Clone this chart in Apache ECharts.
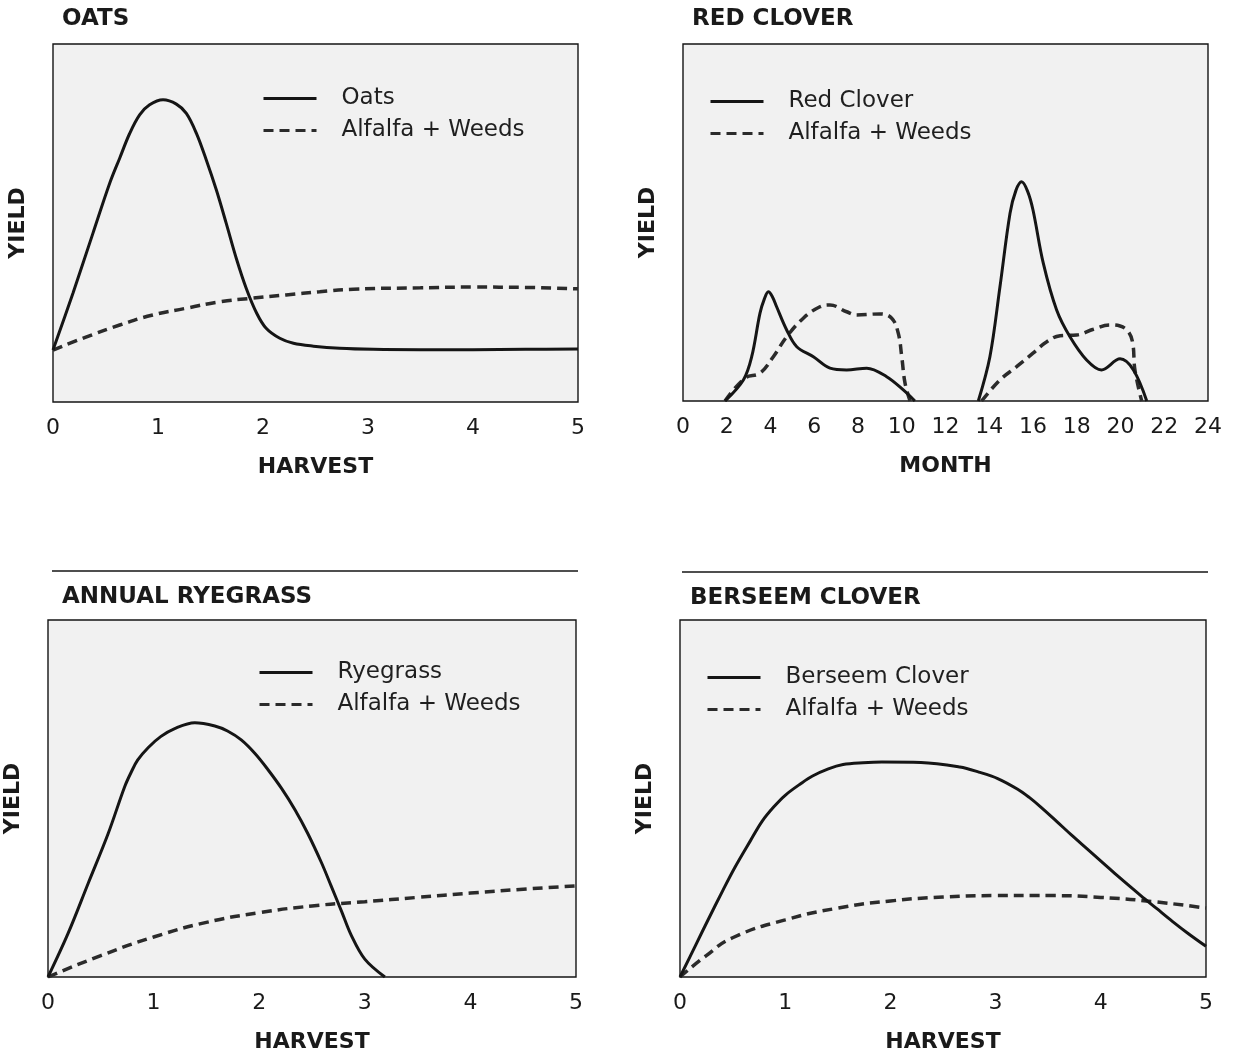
<!DOCTYPE html>
<html>
<head>
<meta charset="utf-8">
<script src="https://cdn.jsdelivr.net/npm/echarts@6/dist/echarts.min.js"></script>
<style>
html,body{margin:0;padding:0;background:#fff;}
#chart{width:1238px;height:1061px;}
</style>
</head>
<body>
<div id="chart"></div>
<script>
// ---------- tick labels ----------
const harvestTicks = [0, 1, 2, 3, 4, 5];
const monthTicks = [0, 2, 4, 6, 8, 10, 12, 14, 16, 18, 20, 22, 24];

// ---------- panel titles / legends ----------
const panelTitles = ['OATS', 'RED CLOVER', 'ANNUAL RYEGRASS', 'BERSEEM CLOVER'];
const cropNames = ['Oats', 'Red Clover', 'Ryegrass', 'Berseem Clover'];
const compName = 'Alfalfa + Weeds';

// ---------- OATS (x = harvest, y = relative yield 0-100) ----------
const oatsX = [0, 0.19, 0.38, 0.54, 0.635, 0.73, 0.825, 0.92, 1.048, 1.175, 1.27, 1.365, 1.46, 1.556, 1.65, 1.746, 1.84, 1.94, 2.03, 2.16, 2.29, 2.48, 2.73, 3.05, 3.5, 4, 4.5, 5];
const oatsY = [14.5, 30.4, 47.1, 61.1, 68.1, 75.0, 80.2, 83.0, 84.4, 83.2, 80.6, 75.1, 67.6, 59.2, 49.9, 40.1, 31.8, 24.8, 20.6, 17.8, 16.4, 15.6, 15.0, 14.7, 14.6, 14.6, 14.7, 14.8];
const oatsAlfX = [0, 0.32, 0.635, 0.95, 1.27, 1.59, 1.9, 2.22, 2.54, 2.86, 3.5, 4, 4.5, 5];
const oatsAlfY = [14.5, 18.2, 21.5, 24.3, 26.2, 28.0, 29.0, 29.9, 30.8, 31.5, 31.9, 32.1, 32.0, 31.6];

// ---------- RED CLOVER (x = month) ----------
const rcX1 = [1.92, 2.76, 3.14, 3.52, 3.72, 3.9, 4.08, 4.28, 4.74, 5.2, 5.96, 6.72, 7.48, 8.4, 9.31, 10.07, 10.6];
const rcY1 = [0, 5.9, 12.4, 24.6, 28.6, 30.6, 29.3, 26.4, 19.9, 15.2, 12.4, 9.2, 8.7, 9.2, 6.8, 3.1, 0];
const rcX2 = [13.5, 14.03, 14.49, 14.95, 15.22, 15.48, 15.75, 16.0, 16.47, 17.08, 17.69, 18.45, 19.13, 19.98, 20.59, 21.2];
const rcY2 = [0, 12.4, 32.0, 52.6, 59.0, 61.4, 58.8, 53.5, 38.6, 25.5, 18.0, 11.5, 8.7, 11.8, 8.7, 0];
const rcAlfX1 = [1.92, 2.83, 3.52, 4.13, 4.74, 5.5, 6.26, 6.72, 7.48, 7.94, 9.0, 9.54, 9.84, 10.0, 10.15, 10.38];
const rcAlfY1 = [0, 6.4, 7.8, 12.4, 18.0, 23.2, 26.4, 26.9, 25.0, 24.1, 24.4, 23.2, 19.0, 12.4, 5.0, 0];
const rcAlfX2 = [13.65, 14.49, 15.25, 16.0, 16.63, 17.24, 18.0, 18.76, 19.52, 19.98, 20.36, 20.56, 20.66, 20.97];
const rcAlfY2 = [0, 5.9, 9.6, 13.4, 16.6, 18.3, 18.5, 20.1, 21.3, 21.0, 19.4, 16.2, 8.7, 0];

// ---------- ANNUAL RYEGRASS ----------
const ryeX = [0, 0.19, 0.38, 0.57, 0.726, 0.79, 0.85, 0.95, 1.07, 1.2, 1.39, 1.58, 1.7, 1.83, 1.96, 2.08, 2.21, 2.34, 2.46, 2.59, 2.68, 2.78, 2.87, 3.0, 3.19];
const ryeY = [0, 12.2, 26.2, 40.2, 53.3, 57.5, 60.8, 64.3, 67.4, 69.6, 71.2, 70.3, 68.9, 66.4, 62.6, 58.2, 52.9, 46.8, 40.2, 32.0, 25.6, 18.4, 11.8, 5.0, 0];
const ryeAlfX = [0, 0.5, 1, 1.5, 2, 2.5, 3, 3.5, 4, 4.5, 5];
const ryeAlfY = [0, 6, 11.2, 15.3, 18, 19.9, 21.1, 22.3, 23.5, 24.6, 25.5];

// ---------- BERSEEM CLOVER ----------
const berX = [0, 0.155, 0.265, 0.41, 0.52, 0.67, 0.78, 0.89, 1.0, 1.15, 1.26, 1.41, 1.55, 1.74, 1.92, 2.29, 2.66, 2.84, 3.02, 3.21, 3.32, 3.43, 3.58, 3.72, 3.87, 4.02, 4.16, 4.38, 4.53, 4.68, 4.83, 5.0];
const berY = [0, 9.3, 15.9, 24.4, 30.6, 38.2, 43.6, 47.6, 50.9, 54.2, 56.3, 58.3, 59.5, 60.0, 60.2, 60.1, 58.8, 57.4, 55.6, 52.6, 50.3, 47.6, 43.6, 39.8, 35.9, 32.0, 28.3, 22.8, 19.2, 15.6, 12.2, 8.6];
const berAlfX = [0, 0.25, 0.5, 1, 1.5, 2, 2.5, 3, 3.5, 4, 4.5, 5];
const berAlfY = [0, 6.0, 11.0, 16.0, 19.3, 21.3, 22.4, 22.8, 22.8, 22.3, 21.1, 19.3];

// ---------- helpers ----------
const FONT = '"DejaVu Sans", "Open Sans", sans-serif';
const zip = (xs, ys) => xs.map((x, i) => [x, ys[i]]);
const gap = (a, b) => a.concat([[ (a[a.length-1][0] + b[0][0]) / 2, '-' ]], b);

const grids = [
  {left: 53, top: 44, width: 525, height: 358},
  {left: 683, top: 44, width: 525, height: 357},
  {left: 48, top: 620, width: 528, height: 357},
  {left: 680, top: 620, width: 526, height: 357}
];
const titlePos = [[62, 8], [692, 8], [62, 586], [690, 587]];
const legendPos = [[262, 87], [709, 90], [258, 661], [706, 666]];
const xNames = ['HARVEST', 'MONTH', 'HARVEST', 'HARVEST'];

const axisNameStyle = {fontFamily: FONT, fontWeight: 'bold', fontSize: 22, color: '#1a1a1a'};

const xAxes = grids.map((g, i) => {
  const isMonth = i === 1;
  const ticks = isMonth ? monthTicks : harvestTicks;
  return {
    type: 'value', gridIndex: i,
    min: ticks[0], max: ticks[ticks.length - 1],
    interval: ticks[1] - ticks[0],
    name: xNames[i], nameLocation: 'middle', nameGap: 54,
    nameTextStyle: axisNameStyle,
    axisLine: {show: false}, axisTick: {show: false}, splitLine: {show: false},
    axisLabel: {fontFamily: FONT, fontSize: 22, color: '#1a1a1a', margin: 15, showMinLabel: true, showMaxLabel: true}
  };
});
const yAxes = grids.map((g, i) => ({
  type: 'value', gridIndex: i, min: 0, max: 100,
  name: 'YIELD', nameLocation: 'middle', nameGap: 24, nameRotate: 90,
  nameTextStyle: axisNameStyle,
  axisLine: {show: false}, axisTick: {show: false}, splitLine: {show: false},
  axisLabel: {show: false}
}));

const solidStyle = {color: '#151515', width: 3, type: 'solid'};
const dashStyle = {color: '#2b2b2b', width: 3.5, type: [10, 6]};

function mk(name, idx, data, dashed, smooth) {
  return {
    type: 'line', name: name, xAxisIndex: idx, yAxisIndex: idx,
    data: data, smooth: smooth, symbol: 'none', showSymbol: false,
    connectNulls: false, silent: true,
    itemStyle: {color: dashed ? '#2b2b2b' : '#151515'},
    lineStyle: dashed ? dashStyle : solidStyle,
    z: dashed ? 2 : 3
  };
}

const series = [
  mk(cropNames[0], 0, zip(oatsX, oatsY), false, 0.35),
  mk(compName, 0, zip(oatsAlfX, oatsAlfY), true, 0.5),
  mk(cropNames[1], 1, gap(zip(rcX1, rcY1), zip(rcX2, rcY2)), false, 0.35),
  mk(compName, 1, gap(zip(rcAlfX1, rcAlfY1), zip(rcAlfX2, rcAlfY2)), true, 0.4),
  mk(cropNames[2], 2, zip(ryeX, ryeY), false, 0.35),
  mk(compName, 2, zip(ryeAlfX, ryeAlfY), true, 0.5),
  mk(cropNames[3], 3, zip(berX, berY), false, 0.35),
  mk(compName, 3, zip(berAlfX, berAlfY), true, 0.5)
];

const chart = echarts.init(document.getElementById('chart'), null, {renderer: 'canvas'});
chart.setOption({
  backgroundColor: '#ffffff',
  animation: false,
  title: panelTitles.map((t, i) => ({
    text: t, left: titlePos[i][0], top: titlePos[i][1], padding: 0,
    textStyle: {fontFamily: FONT, fontWeight: 'bold', fontSize: 23, color: '#1a1a1a'}
  })),
  legend: cropNames.map((c, i) => ({
    data: [c, compName], orient: 'vertical',
    left: legendPos[i][0], top: legendPos[i][1], padding: 0,
    itemWidth: 53, itemHeight: 14, itemGap: 9,
    selectedMode: false,
    lineStyle: {width: 3},
    itemStyle: {opacity: 0, borderWidth: 0},
    textStyle: {fontFamily: FONT, fontSize: 23, color: '#1f1f1f', padding: [0, 0, 0, 20]}
  })),
  grid: grids.map(g => Object.assign({show: true, backgroundColor: '#f1f1f1', borderColor: '#151515', borderWidth: 1.4, containLabel: false}, g)),
  xAxis: xAxes,
  yAxis: yAxes,
  graphic: [
    {type: 'line', shape: {x1: 52, y1: 571, x2: 578, y2: 571}, style: {stroke: '#151515', lineWidth: 1.5}, silent: true},
    {type: 'line', shape: {x1: 682, y1: 572, x2: 1208, y2: 572}, style: {stroke: '#151515', lineWidth: 1.5}, silent: true}
  ],
  series: series
});
</script>
</body>
</html>
